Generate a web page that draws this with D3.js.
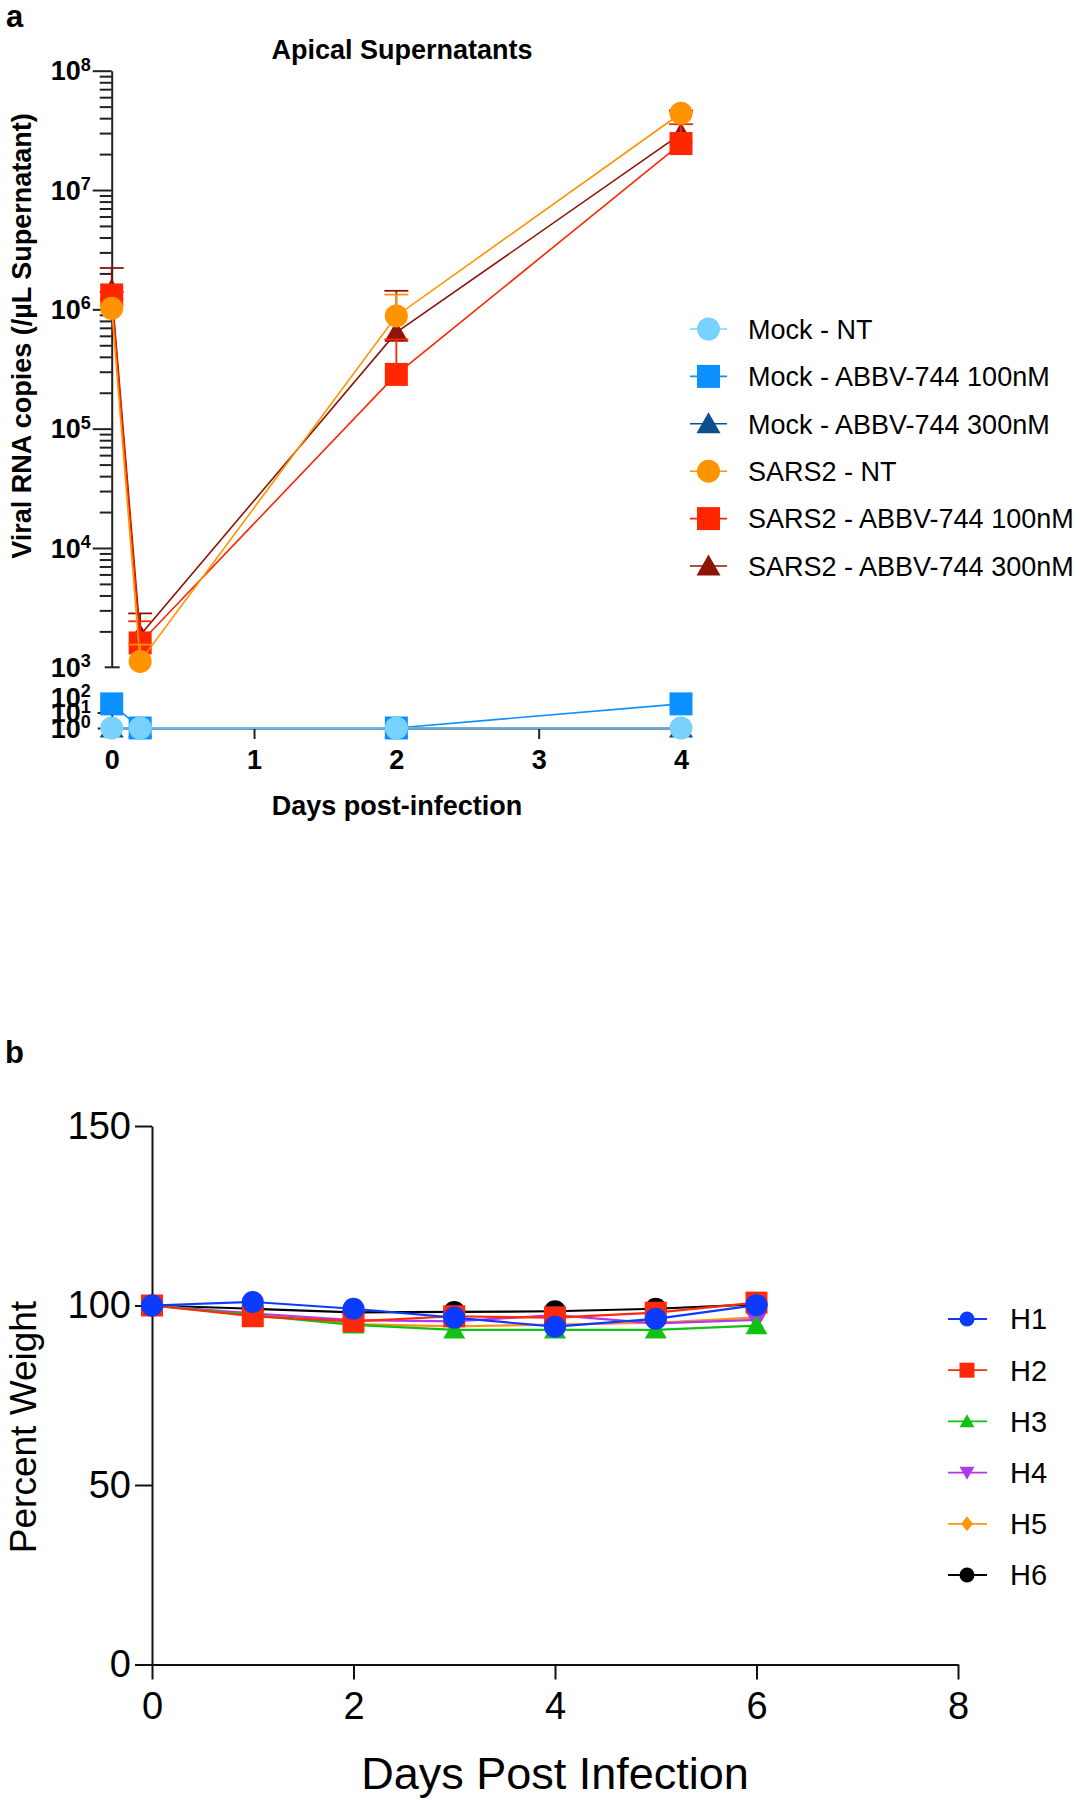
<!DOCTYPE html>
<html><head><meta charset="utf-8">
<script src="https://cdn.jsdelivr.net/npm/d3@7"></script>
<style>
body{margin:0;background:#fff;}
text{font-family:"Liberation Sans",Arial,Helvetica,sans-serif;fill:#000;}
</style></head><body>
<svg id="c" width="1080" height="1800" xmlns="http://www.w3.org/2000/svg"></svg>
<script>
// ---------- Panel a data ----------
const daysA = [0, 0.2, 2, 4];
const seriesA = ["Mock - NT", "Mock - ABBV-744 100nM", "Mock - ABBV-744 300nM",
                 "SARS2 - NT", "SARS2 - ABBV-744 100nM", "SARS2 - ABBV-744 300nM"];
const mockNT    = [1, 1, 1, 1];
const mock100   = [36, 1, 1, 36];
const mock300   = [1, 1, 1, 1];
const sars2NT   = [1.02e6, 1.12e3, 8.8e5, 4.4e7];
const sars2_100 = [1.32e6, 1.6e3, 2.85e5, 2.45e7];
const sars2_300 = [1.45e6, 1.86e3, 6.4e5, 2.95e7];
// upper ends of error bars (SEM)
const sars2NT_err   = [1.1e6, 1.55e3, 1.33e6, 4.5e7];
const sars2_100_err = [1.4e6, 2.43e3, 5.6e5, 3.56e7];
const sars2_300_err = [2.22e6, 2.83e3, 1.43e6, 4.63e7];
const yExpUpper = [3, 4, 5, 6, 7, 8];
const yExpLower = [0, 1, 2];
const xTicksA = [0, 1, 2, 3, 4];

// ---------- Panel b data ----------
const daysB = [0, 1, 2, 3, 4, 5, 6];
const seriesB = ["H1", "H2", "H3", "H4", "H5", "H6"];
const h1 = [100, 101.0, 99.1, 96.6, 94.1, 96.3, 100.1];
const h2 = [100, 97.0, 95.6, 97.0, 96.6, 98.0, 100.8];
const h3 = [100, 97.3, 94.6, 93.2, 93.2, 93.2, 94.4];
const h4 = [100, 97.8, 95.9, 95.6, 97.3, 95.0, 96.0];
const h5 = [100, 97.5, 94.8, 94.2, 94.7, 95.2, 96.7];
const h6 = [100, 99.1, 98.1, 98.2, 98.4, 99.1, 100.3];
const yTicksB = [0, 50, 100, 150];
const xTicksB = [0, 2, 4, 6, 8];

const svg = d3.select("#c");
const FONT = '"Liberation Sans",Arial,Helvetica,sans-serif';

// marker path generators (centered)
function markerPath(shape, s) {
  const h = s / 2;
  if (shape === "circle") return d3.symbol(d3.symbolCircle, Math.PI * h * h)();
  if (shape === "square") return `M${-h},${-h}H${h}V${h}H${-h}Z`;
  if (shape === "triangle") { const th = s * 0.87; return `M0,${-th*0.55}L${h},${th*0.45}L${-h},${th*0.45}Z`; }
  if (shape === "triangleDown") { const th = s * 0.87; return `M0,${th*0.55}L${h},${-th*0.45}L${-h},${-th*0.45}Z`; }
  if (shape === "diamond") return `M0,${-h}L${h*0.8},0L0,${h}L${-h*0.8},0Z`;
}

// ================= PANEL A =================
const xA = d3.scaleLinear().domain([0, 4]).range([111.7, 681]);
const yAup = d3.scaleLog().domain([1e3, 1e8]).range([667.3, 70.7]);
const yAlo = d3.scaleLog().domain([1, 100]).range([728, 697]);
const yA = v => v >= 1000 ? yAup(v) : yAlo(v);
const x0A = xA(0);

const gA = svg.append("g");
// panel label
svg.append("text").attr("x", 6).attr("y", 27).style("font-family", FONT)
  .style("font-size", "31px").style("font-weight", "bold").text("a");
// title
gA.append("text").attr("x", 402).attr("y", 59).attr("text-anchor", "middle")
  .style("font-size", "27px").style("font-weight", "bold").text("Apical Supernatants");

// upper y axis: minor ticks + domain
const minors = yAup.ticks().filter(v => Math.abs(Math.log10(v) - Math.round(Math.log10(v))) > 1e-6);
gA.append("g").attr("transform", `translate(${x0A},0)`)
  .call(d3.axisLeft(yAup).tickValues(minors).tickSize(12).tickSizeOuter(0).tickFormat(""));
const axUpMajor = gA.append("g").attr("transform", `translate(${x0A},0)`)
  .call(d3.axisLeft(yAup).tickValues(yExpUpper.filter(e => e > 3).map(e => Math.pow(10, e))).tickSize(19).tickFormat(""));
axUpMajor.select(".domain").remove();
// break cap at 10^3
gA.append("line").attr("x1", x0A - 7).attr("x2", x0A + 8)
  .attr("y1", yAup(1e3)).attr("y2", yAup(1e3)).attr("stroke", "#222").attr("stroke-width", 2);
// lower y axis
gA.append("g").attr("transform", `translate(${x0A},0)`)
  .call(d3.axisLeft(yAlo).tickValues([1, 10]).tickSize(14).tickSizeOuter(0).tickFormat(""));
gA.selectAll(".domain").attr("stroke", "#222").attr("stroke-width", 2);
gA.selectAll(".tick line").attr("stroke", "#222").attr("stroke-width", 2);

function expLabel(g, y, e, xRight) {
  const t = g.append("text").attr("x", xRight).attr("y", y + 9.6).attr("text-anchor", "end")
    .style("font-size", "27px").style("font-weight", "bold");
  t.append("tspan").text("10");
  t.append("tspan").attr("dy", -9.5).style("font-size", "18px").text(String(e));
}
yExpUpper.forEach(e => expLabel(gA, yAup(Math.pow(10, e)), e, x0A - 21));
yExpLower.forEach(e => expLabel(gA, yAlo(Math.pow(10, e)), e, x0A - 21));

// x axis a
const axXA = gA.append("g").attr("transform", `translate(0,${yAlo(1)})`)
  .call(d3.axisBottom(xA).tickValues(xTicksA).tickSize(11).tickSizeOuter(0).tickPadding(11).tickFormat(d3.format("d")));
axXA.select(".domain").attr("stroke", "#222").attr("stroke-width", 2);
axXA.selectAll(".tick line").attr("stroke", "#222").attr("stroke-width", 2);
axXA.selectAll(".tick text").style("font-family", FONT).style("font-size", "27px").style("font-weight", "bold").attr("fill", "#000");

// axis titles
gA.append("text").attr("x", 397).attr("y", 815).attr("text-anchor", "middle")
  .style("font-size", "27px").style("font-weight", "bold").text("Days post-infection");
gA.append("text").attr("transform", "translate(31,336) rotate(-90)").attr("text-anchor", "middle")
  .style("font-size", "27px").style("font-weight", "bold").text("Viral RNA copies (/µL Supernatant)");

const defsA = [
  { name: seriesA[0], vals: mockNT,    err: null,          color: "#78D2FD", shape: "circle" },
  { name: seriesA[1], vals: mock100,   err: null,          color: "#0A90FF", shape: "square" },
  { name: seriesA[2], vals: mock300,   err: null,          color: "#0D4E8C", shape: "triangle" },
  { name: seriesA[3], vals: sars2NT,   err: sars2NT_err,   color: "#FF9300", shape: "circle" },
  { name: seriesA[4], vals: sars2_100, err: sars2_100_err, color: "#FF2600", shape: "square" },
  { name: seriesA[5], vals: sars2_300, err: sars2_300_err, color: "#8C1505", shape: "triangle" }
];
const lineA = d3.line().x(d => xA(d.x)).y(d => yA(d.y));
const plotA = gA.append("g");
defsA.slice().reverse().forEach(s => {
  const pts = daysA.map((d, i) => ({ x: d, y: s.vals[i], e: s.err ? s.err[i] : null }));
  plotA.append("path").datum(pts).attr("d", lineA).attr("fill", "none")
    .attr("stroke", s.color).attr("stroke-width", 1.6);
  if (s.err) {
    pts.forEach(p => {
      plotA.append("line").attr("x1", xA(p.x)).attr("x2", xA(p.x)).attr("y1", yA(p.y)).attr("y2", yA(p.e))
        .attr("stroke", s.color).attr("stroke-width", 1.8);
      plotA.append("line").attr("x1", xA(p.x) - 12).attr("x2", xA(p.x) + 12).attr("y1", yA(p.e)).attr("y2", yA(p.e))
        .attr("stroke", s.color).attr("stroke-width", 1.8);
    });
  }
  plotA.selectAll(null).data(pts).enter().append("path")
    .attr("transform", d => `translate(${xA(d.x)},${yA(d.y)})`)
    .attr("d", markerPath(s.shape, s.shape === "triangle" ? 24 : 23)).attr("fill", s.color);
});

// legend a
const legA = svg.append("g");
defsA.forEach((s, i) => {
  const y = 329 + i * 47.4;
  legA.append("line").attr("x1", 690).attr("x2", 727).attr("y1", y).attr("y2", y)
    .attr("stroke", s.color).attr("stroke-width", 1.6);
  legA.append("path").attr("transform", `translate(708.5,${y})`)
    .attr("d", markerPath(s.shape, s.shape === "triangle" ? 24 : 23)).attr("fill", s.color);
  legA.append("text").attr("x", 748).attr("y", y).attr("dy", "0.36em")
    .style("font-size", "27px").text(s.name);
});

// ================= PANEL B =================
const xB = d3.scaleLinear().domain([0, 8]).range([152, 958]);
const yB = d3.scaleLinear().domain([0, 150]).range([1664.5, 1126]);
const gB = svg.append("g");
svg.append("text").attr("x", 5).attr("y", 1063).style("font-family", FONT)
  .style("font-size", "31px").style("font-weight", "bold").text("b");

gB.append("g").attr("transform", `translate(${xB(0)},0)`)
  .call(d3.axisLeft(yB).tickValues(yTicksB).tickSize(17).tickSizeOuter(0).tickPadding(4));
gB.append("g").attr("transform", `translate(0,${yB(0)})`)
  .call(d3.axisBottom(xB).tickValues(xTicksB).tickSize(15).tickSizeOuter(0).tickPadding(13));
gB.selectAll(".domain").attr("stroke", "#111").attr("stroke-width", 2);
gB.selectAll(".tick line").attr("stroke", "#111").attr("stroke-width", 2);
gB.selectAll(".tick text").style("font-family", FONT).style("font-size", "38px").attr("fill", "#000");

gB.append("text").attr("x", 555).attr("y", 1789).attr("text-anchor", "middle")
  .style("font-size", "45px").text("Days Post Infection");
gB.append("text").attr("transform", "translate(36,1427) rotate(-90)").attr("text-anchor", "middle")
  .style("font-size", "37px").text("Percent Weight");

const defsB = [
  { name: seriesB[0], vals: h1, color: "#0B3BFF", shape: "circle" },
  { name: seriesB[1], vals: h2, color: "#FF2A0C", shape: "square" },
  { name: seriesB[2], vals: h3, color: "#12C112", shape: "triangle" },
  { name: seriesB[3], vals: h4, color: "#B03AE8", shape: "triangleDown" },
  { name: seriesB[4], vals: h5, color: "#FF9414", shape: "diamond" },
  { name: seriesB[5], vals: h6, color: "#000000", shape: "circle" }
];
const lineB = d3.line().x(d => xB(d.x)).y(d => yB(d.y));
const plotB = gB.append("g");
defsB.slice().reverse().forEach(s => {
  const pts = daysB.map((d, i) => ({ x: d, y: s.vals[i] }));
  plotB.append("path").datum(pts).attr("d", lineB).attr("fill", "none")
    .attr("stroke", s.color).attr("stroke-width", 2.2);
  plotB.selectAll(null).data(pts).enter().append("path")
    .attr("transform", d => `translate(${xB(d.x)},${yB(d.y)})`)
    .attr("d", markerPath(s.shape, s.shape === "diamond" ? 19 : 22)).attr("fill", s.color);
});

// legend b
const legB = svg.append("g");
defsB.forEach((s, i) => {
  const y = 1319 + i * 51.2;
  legB.append("line").attr("x1", 948).attr("x2", 987).attr("y1", y).attr("y2", y)
    .attr("stroke", s.color).attr("stroke-width", 1.8);
  legB.append("path").attr("transform", `translate(967,${y})`)
    .attr("d", markerPath(s.shape, 15)).attr("fill", s.color);
  legB.append("text").attr("x", 1010).attr("y", y).attr("dy", "0.36em")
    .style("font-size", "29px").text(s.name);
});
</script>
</body></html>
